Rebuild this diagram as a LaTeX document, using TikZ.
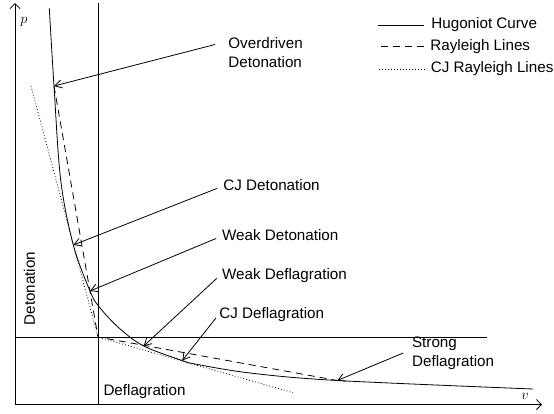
\documentclass[tikz,border=0pt]{standalone}
\usepackage{fontspec}
\setmainfont{Liberation Sans}
\usetikzlibrary{arrows.meta}

\begin{document}
\begin{tikzpicture}[x=1pt, y=-1pt, line width=0.8pt,
    >={Straight Barb[length=7pt,width=8pt]},
    lbl/.style={inner sep=0pt, align=left, font=\fontsize{15.2}{19}\selectfont},
    ray/.style={dash pattern=on 7pt off 5pt},
    cjray/.style={dash pattern=on 0.8pt off 2.2pt},
    axis/.style={-{Straight Barb[length=5pt,width=10pt]}}]
    \useasboundingbox (0,0) rectangle (554,413);

    % Axes
    \coordinate (origin) at (15,404.5);
    \coordinate (ptop) at (15,3);
    \coordinate (vend) at (542,404.5);
    \draw[axis] (origin) -- (ptop);
    \draw[axis] (origin) -- (vend);
    \node[font=\fontsize{15.2}{17}\selectfont] (plab) at (24,22) {$p$};
    \node[font=\fontsize{15.2}{17}\selectfont] (vlab) at (525,396) {$v$};

    % Initial state
    \coordinate (s0) at (98,337);
    \coordinate (s0top) at (98,3);
    \coordinate (s0bot) at (98,404.5);
    \coordinate (s0left) at (15,337);
    \coordinate (s0right) at (487,337);
    \draw (s0top) -- (s0bot);
    \draw (s0left) -- (s0right);

    % Points on the Hugoniot curve
    \coordinate (od) at (54,86);
    \coordinate (cjdet) at (73.3,245);
    \coordinate (wdet) at (90,291);
    \coordinate (wdef) at (143.7,346);
    \coordinate (cjdef) at (182.3,360.5);
    \coordinate (sdef) at (337.3,380.5);

    % Hugoniot curve
    \draw plot[smooth, tension=0.55] coordinates {(49.3,8.3) (od) (60.7,180)
        (cjdet) (wdet) (98.5,306) (118.7,327.7) (wdef) (cjdef) (195,364)
        (250,373) (sdef) (533,389)};

    % Rayleigh lines
    \draw[ray] (od) -- (s0) -- (sdef);
    \coordinate (cjtop) at (31,86);
    \coordinate (cjend) at (293,392.7);
    \draw[cjray] (cjtop) -- (s0) -- (cjend);

    % Labels
    \node[lbl, anchor=west] (odl) at (228,52.5) {Overdriven\\Detonation};
    \node[lbl, anchor=base west] (cjdetl) at (223,190.4) {CJ Detonation};
    \node[lbl, anchor=base west] (wdetl) at (221.7,240.4) {Weak Detonation};
    \node[lbl, anchor=base west] (wdefl) at (221.7,279.4) {Weak Deflagration};
    \node[lbl, anchor=base west] (cjdefl) at (219,318.4) {CJ Deflagration};
    \node[lbl, anchor=west] (sdefl) at (411.7,353) {Strong\\Deflagration};
    \node[lbl, rotate=90] (detl) at (29.5,288.5) {Detonation};
    \node[lbl] (defl) at (144.5,391.7) {Deflagration};

    \draw[->] ([xshift=-13pt,yshift=8pt]odl.west) -- (od);
    \draw[->] ([xshift=-6pt,yshift=2pt]cjdetl.base west) -- (cjdet);
    \draw[->] ([xshift=-5.5pt,yshift=2pt]wdetl.base west) -- (wdet);
    \draw[->] ([xshift=-5pt,yshift=1pt]wdefl.base west) -- (wdef);
    \draw[->] ([xshift=-3pt,yshift=0.5pt]cjdefl.base west) -- (cjdef);
    \draw[->] ([xshift=-8.5pt]sdefl.west) -- (sdef);

    % Legend
    \node[lbl, anchor=west] (lg1) at (431,25) {Hugoniot Curve};
    \node[lbl, anchor=west] (lg2) at (430,46.7) {Rayleigh Lines};
    \node[lbl, anchor=west] (lg3) at (430.5,69) {CJ Rayleigh Lines};
    \draw ([xshift=-7pt]lg1.west) -- ++(-46,0);
    \draw[ray] ([xshift=-6pt]lg2.west) -- ++(-47,0);
    \draw[cjray] ([xshift=-6pt]lg3.west) -- ++(-47,0);
\end{tikzpicture}
\end{document}
